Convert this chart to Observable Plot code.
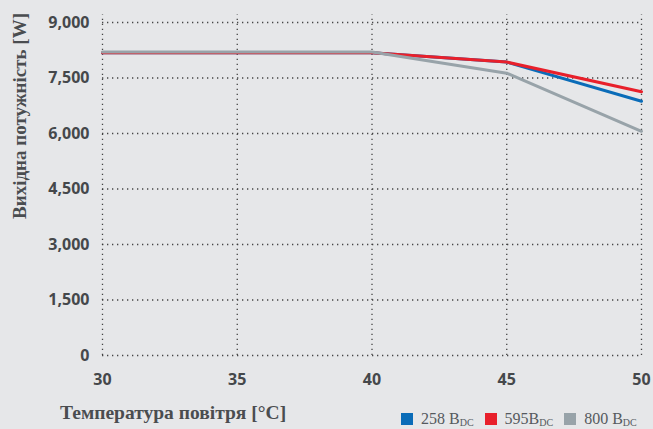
<!DOCTYPE html>
<html>
<head>
<meta charset="utf-8">
<script src="https://cdn.jsdelivr.net/npm/d3@7"></script>
<script src="https://cdn.jsdelivr.net/npm/@observablehq/plot@0.6"></script>
<style>
  html, body { margin: 0; padding: 0; background: #e6e7e9; }
  #wrap { position: relative; width: 653px; height: 429px; overflow: hidden; background: #e6e7e9; }
  #legend { position: absolute; left: 401px; top: 410px; font-family: "Liberation Serif", "DejaVu Serif", serif; font-size: 16px; color: #555a5e; white-space: nowrap; }
  #legend span.item { display: inline-block; margin-right: 11px; }
  #legend span.sw { display: inline-block; width: 12px; height: 12px; vertical-align: -1px; margin-right: 8px; }
  #legend sub { font-size: 10px; vertical-align: -2px; line-height: 0; }
</style>
</head>
<body>
<div id="wrap"><div id="chart"></div>
<div id="legend"></div></div>
<script>
const temps = [30, 35, 40, 45, 50];
const seriesNames = ["258 B", "595B", "800 B"];
const seriesColors = ["#0a6cb8", "#e8202b", "#98a3a9"];
const power258 = [8180, 8180, 8180, 7930, 6870];
const power595 = [8180, 8180, 8180, 7930, 7130];
const power800 = [8200, 8200, 8200, 7630, 6060];
const yTicks = [0, 1500, 3000, 4500, 6000, 7500, 9000];
const xTicks = [30, 35, 40, 45, 50];
const yTitle = "Вихідна потужність [W]";
const xTitle = "Температура повітря [°C]";

const allSeries = [power258, power595, power800];
const data = [];
allSeries.forEach((vals, i) => temps.forEach((t, j) => data.push({series: seriesNames[i], t, p: vals[j]})));

const tickFont = "'Open Sans', 'Noto Sans', sans-serif";
const plot = Plot.plot({
  width: 653,
  height: 429,
  marginLeft: 102,
  marginRight: 12,
  marginTop: 22,
  marginBottom: 74,
  style: {background: "transparent", color: "#45484b", fontFamily: tickFont},
  x: {domain: [30, 50], ticks: xTicks, label: null},
  y: {domain: [0, 9000], ticks: yTicks, label: null, tickFormat: d3.format(",")},
  color: {domain: seriesNames, range: seriesColors},
  marks: [
    Plot.gridX(xTicks, {stroke: "#333", strokeOpacity: 0.9, strokeWidth: 1.3, strokeDasharray: "1.3,3.7", y1: 0, y2: 9200}),
    Plot.gridY(yTicks, {stroke: "#333", strokeOpacity: 0.9, strokeWidth: 1.3, strokeDasharray: "1.3,3.7"}),
    Plot.axisX({ticks: xTicks, tickSize: 0, tickPadding: 18, fontSize: 16, fontWeight: "bold", label: null}),
    Plot.axisY({ticks: yTicks, tickSize: 0, tickPadding: 13, fontSize: 16, fontWeight: "bold", label: null, tickFormat: d3.format(",")}),
    Plot.line(data, {x: "t", y: "p", z: "series", stroke: "series", strokeWidth: 3})
  ]
});
document.getElementById("chart").appendChild(plot);

const svg = d3.select(plot);
svg.append("text")
  .attr("transform", "translate(26,116) rotate(-90)")
  .attr("text-anchor", "middle")
  .attr("font-family", "'Liberation Serif', 'DejaVu Serif', serif")
  .attr("font-weight", "bold")
  .attr("font-size", 19)
  .attr("fill", "#4a4d50")
  .text(yTitle);
svg.append("text")
  .attr("x", 60).attr("y", 419)
  .attr("text-anchor", "start")
  .attr("font-family", "'Liberation Serif', 'DejaVu Serif', serif")
  .attr("font-weight", "bold")
  .attr("font-size", 19.5)
  .attr("fill", "#4a4d50")
  .text(xTitle);

const legend = document.getElementById("legend");
seriesNames.forEach((name, i) => {
  const item = document.createElement("span");
  item.className = "item";
  const sw = document.createElement("span");
  sw.className = "sw";
  sw.style.background = seriesColors[i];
  item.appendChild(sw);
  item.appendChild(document.createTextNode(name));
  const sub = document.createElement("sub");
  sub.textContent = "DC";
  item.appendChild(sub);
  legend.appendChild(item);
});
</script>
</body>
</html>
